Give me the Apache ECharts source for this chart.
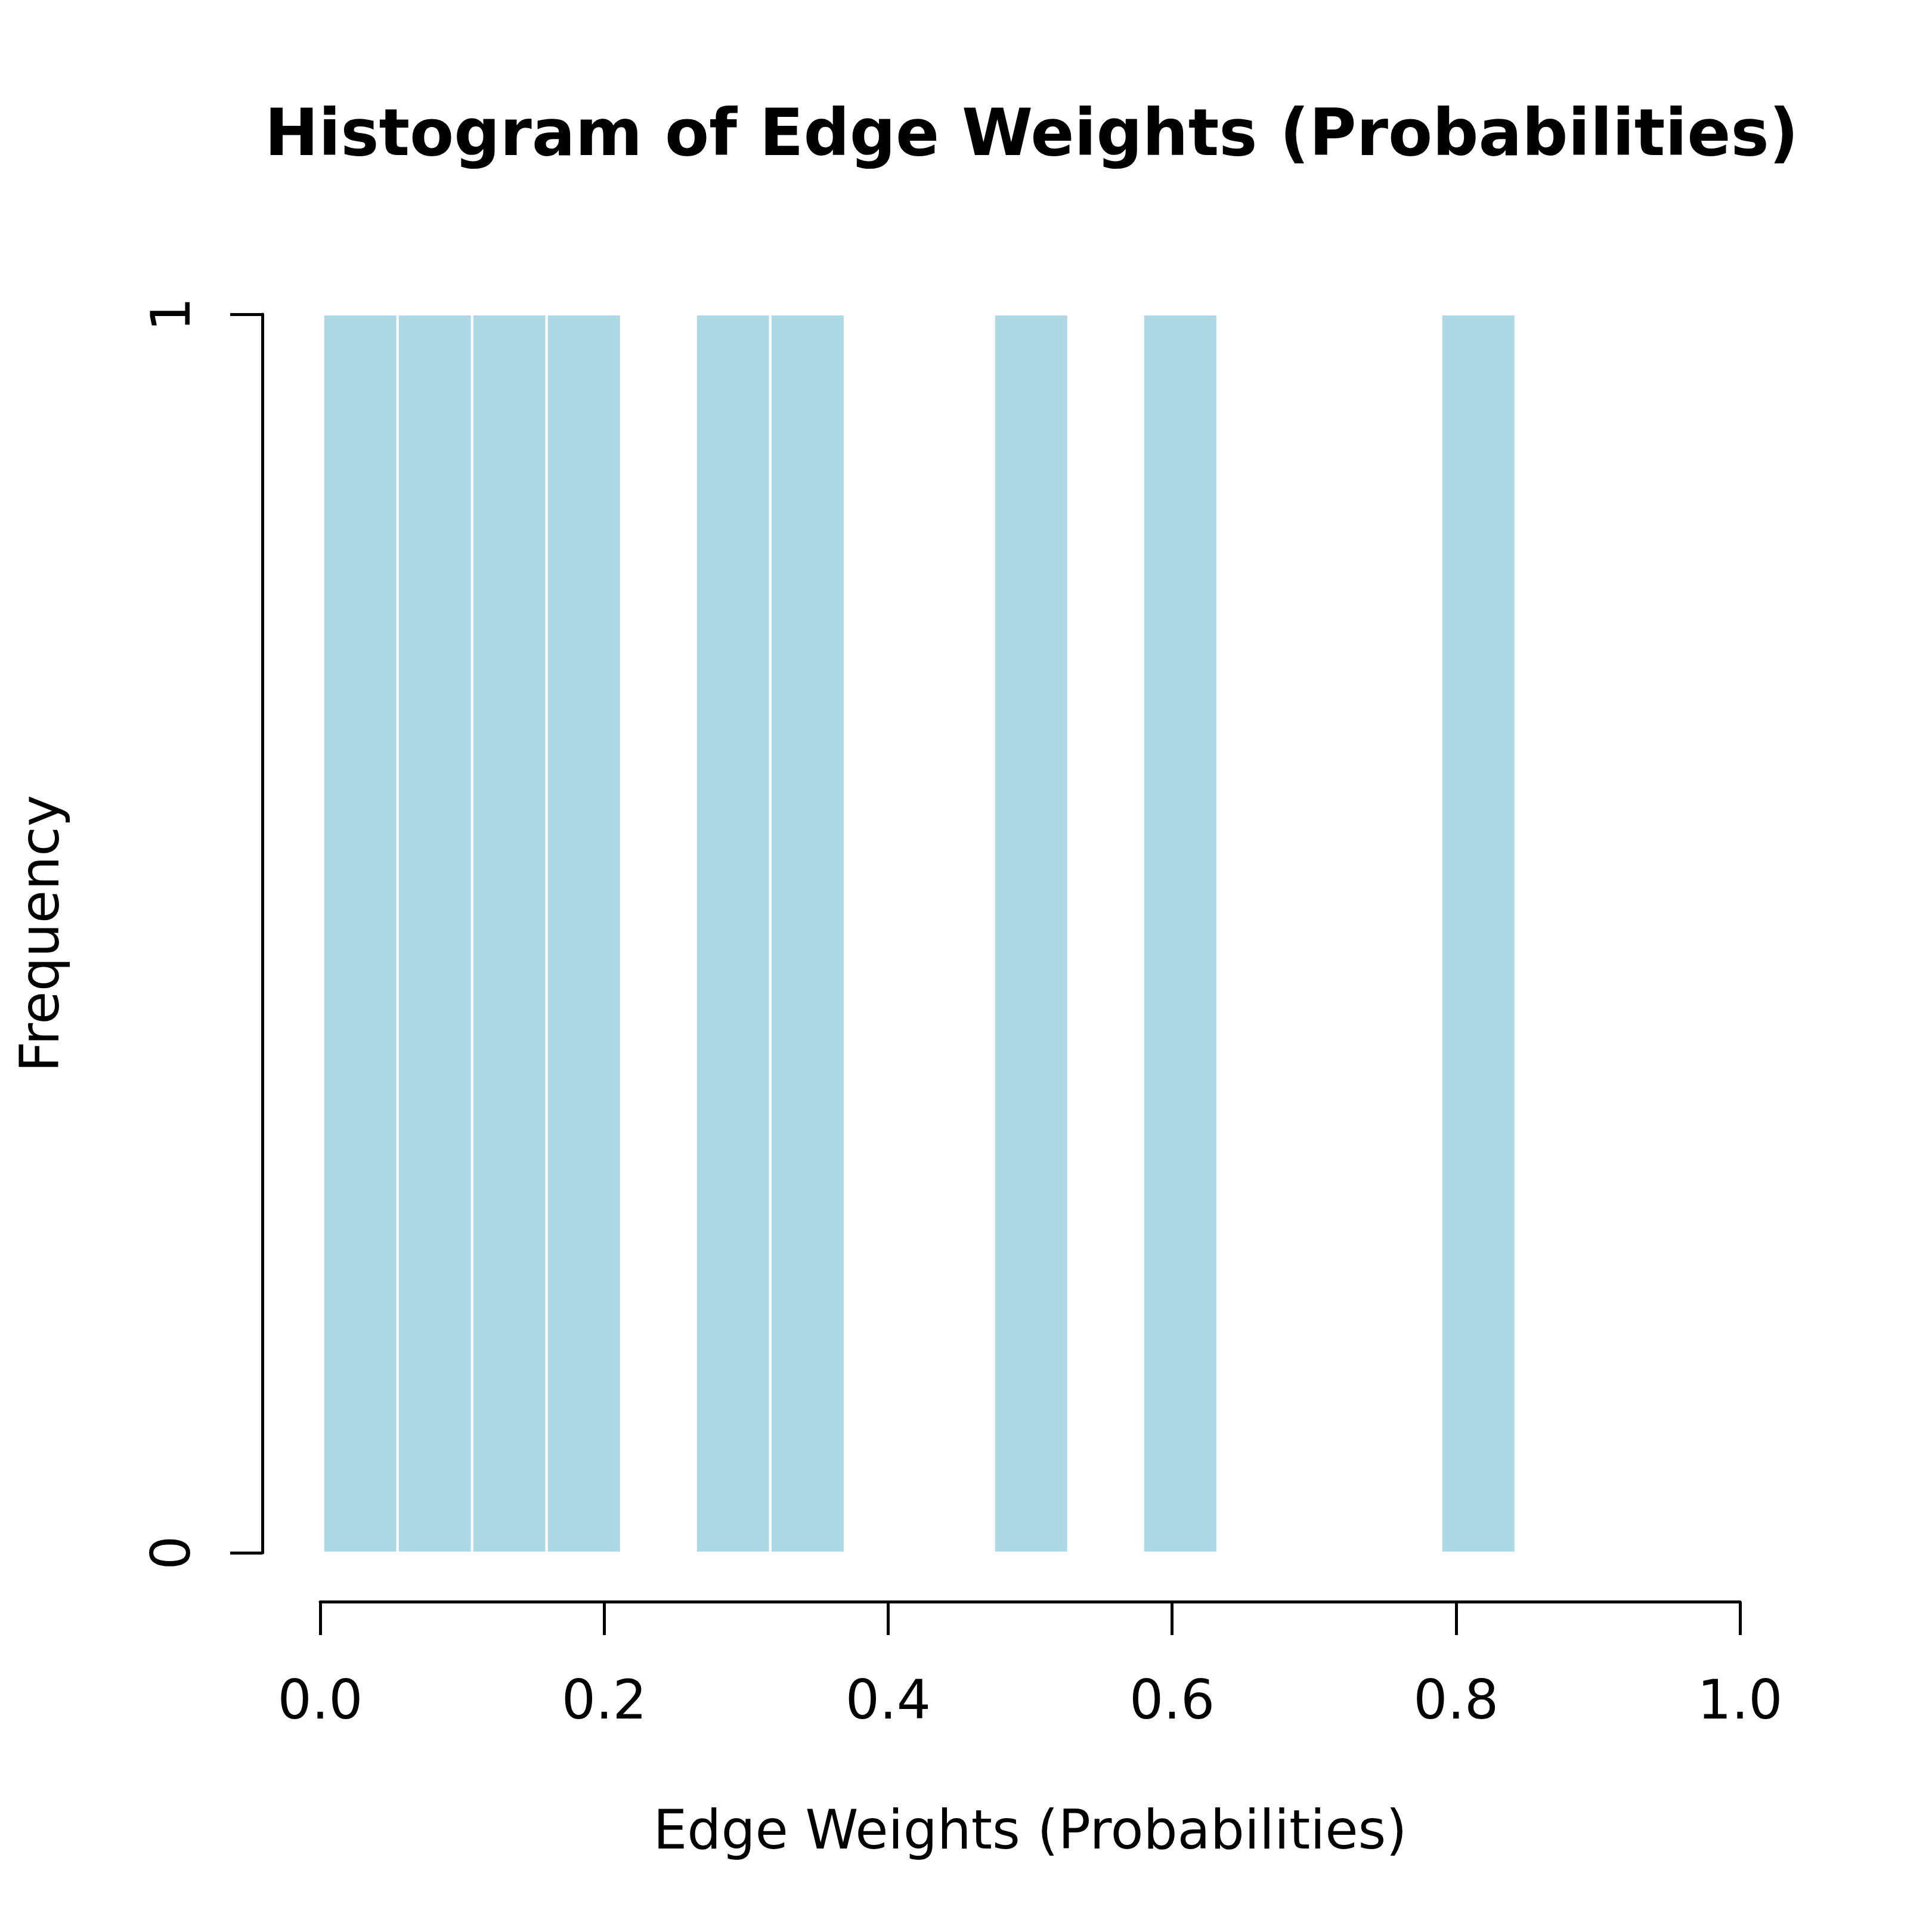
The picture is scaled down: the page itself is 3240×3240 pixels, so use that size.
<!DOCTYPE html>
<html>
<head>
<meta charset="utf-8">
<script src="https://cdn.jsdelivr.net/npm/echarts@6/dist/echarts.min.js"></script>
<style>
  html, body { margin: 0; padding: 0; background: #fff; }
  #chart { width: 3240px; height: 3240px; }
</style>
</head>
<body>
<div id="chart"></div>
<script>
// histogram bins (edges) and counts
var binStarts = [0.002, 0.0545, 0.107, 0.1595, 0.212, 0.2645, 0.317, 0.3695, 0.422, 0.4745, 0.527, 0.5795, 0.632, 0.6845, 0.737, 0.7895];
var binEnds = [0.0545, 0.107, 0.1595, 0.212, 0.2645, 0.317, 0.3695, 0.422, 0.4745, 0.527, 0.5795, 0.632, 0.6845, 0.737, 0.7895, 0.842];
var counts = [1, 1, 1, 1, 0, 1, 1, 0, 0, 1, 0, 1, 0, 0, 0, 1];
var xTicks = [0, 0.2, 0.4, 0.6, 0.8, 1.0];
var yTicks = [0, 1];

var bins = [];
for (var i = 0; i < counts.length; i++) {
  bins.push([binStarts[i], binEnds[i], counts[i]]);
}

var dom = document.getElementById('chart');
var myChart = echarts.init(dom, null, { renderer: 'canvas' });
var font = 'DejaVu Sans';

var option = {
  backgroundColor: '#ffffff',
  animation: false,
  textStyle: { fontFamily: font },
  title: {
    text: 'Histogram of Edge Weights (Probabilities)',
    left: 1725,
    textAlign: 'center',
    top: 173,
    textStyle: { fontFamily: font, fontWeight: 'bold', fontSize: 108, color: '#000' }
  },
  grid: { left: 537, right: 322, top: 527, bottom: 636 },
  xAxis: {
    type: 'value',
    min: xTicks[0],
    max: xTicks[xTicks.length - 1],
    interval: 0.2,
    offset: 82,
    name: 'Edge Weights (Probabilities)',
    nameLocation: 'middle',
    nameGap: 346,
    nameTextStyle: { fontFamily: font, fontSize: 90, color: '#000' },
    axisLine: { show: true, onZero: false, lineStyle: { color: '#000', width: 5 } },
    axisTick: { show: true, length: 56, lineStyle: { color: '#000', width: 5 } },
    axisLabel: {
      fontFamily: font, fontSize: 90, color: '#000', margin: 128,
      formatter: function (v) { return v.toFixed(1); }
    },
    splitLine: { show: false }
  },
  yAxis: {
    type: 'value',
    min: yTicks[0],
    max: yTicks[yTicks.length - 1],
    interval: 1,
    offset: 97,
    name: 'Frequency',
    nameLocation: 'middle',
    nameRotate: 90,
    nameGap: 320,
    nameTextStyle: { fontFamily: font, fontSize: 90, color: '#000' },
    axisLine: { show: true, onZero: false, lineStyle: { color: '#000', width: 5 } },
    axisTick: { show: true, length: 54, lineStyle: { color: '#000', width: 5 } },
    axisLabel: { fontFamily: font, fontSize: 90, color: '#000', margin: 100, rotate: 90 },
    splitLine: { show: false }
  },
  series: [{
    type: 'custom',
    data: bins,
    encode: { x: [0, 1], y: 2 },
    renderItem: function (params, api) {
      var h = api.value(2);
      if (!h) return null;
      var p0 = api.coord([api.value(0), 0]);
      var p1 = api.coord([api.value(1), h]);
      return {
        type: 'rect',
        shape: { x: p0[0], y: p1[1], width: p1[0] - p0[0], height: p0[1] - p1[1] },
        style: { fill: '#ADD8E6', stroke: '#ffffff', lineWidth: 4 }
      };
    }
  }]
};

myChart.setOption(option);
window.addEventListener('resize', myChart.resize);
</script>
</body>
</html>
